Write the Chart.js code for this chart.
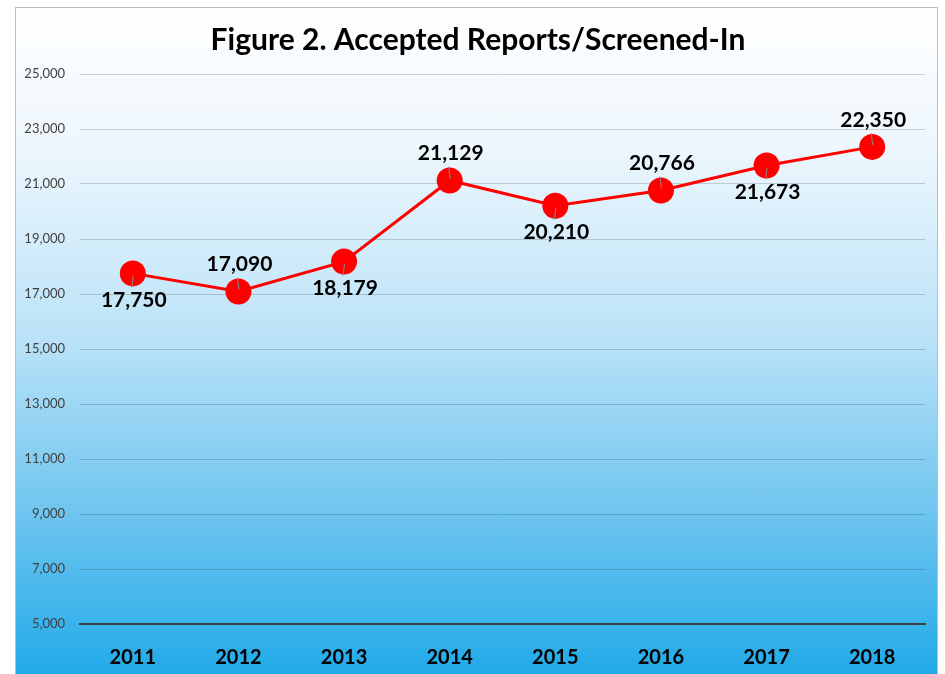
<!DOCTYPE html>
<html>
<head>
<meta charset="utf-8">
<script src="https://cdn.jsdelivr.net/npm/chart.js@4.4.1/dist/chart.umd.min.js"></script>
<style>
    html, body { margin: 0; padding: 0; background: #ffffff; }
    #frame {
        position: absolute;
        left: 15px;
        top: 7px;
        width: 921px;
        height: 680px;
        border: 1px solid #bdbdbd;
        background: linear-gradient(to bottom, #ffffff 0%, #eef7fd 20%, #bce3f8 48%, #6cc4ef 75%, #1ba8e8 100%);
    }
    #wrap { position: absolute; left: 0; top: 0; width: 945px; height: 674px; }
</style>
</head>
<body>
<div id="frame"></div>
<div id="wrap"><canvas id="lineChart" width="945" height="674"></canvas></div>
<script>
const chartTitle = 'Figure 2. Accepted Reports/Screened-In';
const years = ['2011', '2012', '2013', '2014', '2015', '2016', '2017', '2018'];
const reports = [17750, 17090, 18179, 21129, 20210, 20766, 21673, 22350];
// 1 = label above the point, -1 = below
const labelSide = [-1, 1, -1, 1, -1, 1, -1, 1];
const yMin = 5000;
const yMax = 25000;
const yStep = 2000;

const fontFamily = 'Lato, "Open Sans", sans-serif';

// title drawn centred over the figure
const titlePlugin = {
    id: 'figTitle',
    afterDraw(chart) {
        const ctx = chart.ctx;
        ctx.save();
        ctx.font = 'bold 30px ' + fontFamily;
        ctx.fillStyle = '#000000';
        ctx.textAlign = 'center';
        ctx.textBaseline = 'middle';
        ctx.fillText(chartTitle, 478, 40);
        ctx.restore();
    }
};

// value labels with little leader ticks, like the spreadsheet chart
const valueLabels = {
    id: 'valueLabels',
    afterDatasetsDraw(chart) {
        const ctx = chart.ctx;
        const meta = chart.getDatasetMeta(0);
        ctx.save();
        meta.data.forEach((pt, i) => {
            const side = labelSide[i];
            ctx.strokeStyle = '#8a8a8a';
            ctx.lineWidth = 1;
            ctx.beginPath();
            ctx.moveTo(pt.x + 0.5, pt.y - side * 2);
            ctx.lineTo(pt.x - 1, pt.y - side * 14);
            ctx.stroke();

            ctx.font = 'bold 21px ' + fontFamily;
            ctx.fillStyle = '#000000';
            ctx.textAlign = 'center';
            ctx.textBaseline = 'middle';
            ctx.fillText(reports[i].toLocaleString('en-US'), pt.x + 1, pt.y - side * 27);
        });
        ctx.restore();
    }
};

new Chart(document.getElementById('lineChart'), {
    type: 'line',
    data: {
        labels: years,
        datasets: [{
            label: 'Accepted Reports',
            data: reports,
            borderColor: '#ff0000',
            backgroundColor: '#ff0000',
            borderWidth: 3,
            pointRadius: 13,
            pointHoverRadius: 13,
            pointBorderWidth: 0,
            pointBackgroundColor: '#ff0000',
            tension: 0,
            fill: false
        }]
    },
    options: {
        responsive: false,
        animation: false,
        events: [],
        layout: {
            padding: { top: 74, left: 15, right: 20, bottom: 0 }
        },
        plugins: {
            legend: { display: false },
            tooltip: { enabled: false },
            title: { display: false }
        },
        scales: {
            x: {
                offset: true,
                grid: { display: false, drawTicks: false },
                border: { display: true, color: '#404040', width: 2 },
                ticks: {
                    color: '#000000',
                    padding: 22,
                    font: { family: fontFamily, size: 20, weight: 'bold' }
                },
                afterFit(scale) { scale.height = 50; }
            },
            y: {
                min: yMin,
                max: yMax,
                grid: { color: 'rgba(0,0,0,0.17)', lineWidth: 1, drawTicks: false },
                border: { display: false },
                ticks: {
                    stepSize: yStep,
                    color: '#404040',
                    padding: 15,
                    font: { family: fontFamily, size: 13 },
                    callback: v => v.toLocaleString('en-US')
                },
                afterFit(scale) { scale.width = 65; }
            }
        }
    },
    plugins: [titlePlugin, valueLabels]
});
</script>
</body>
</html>
